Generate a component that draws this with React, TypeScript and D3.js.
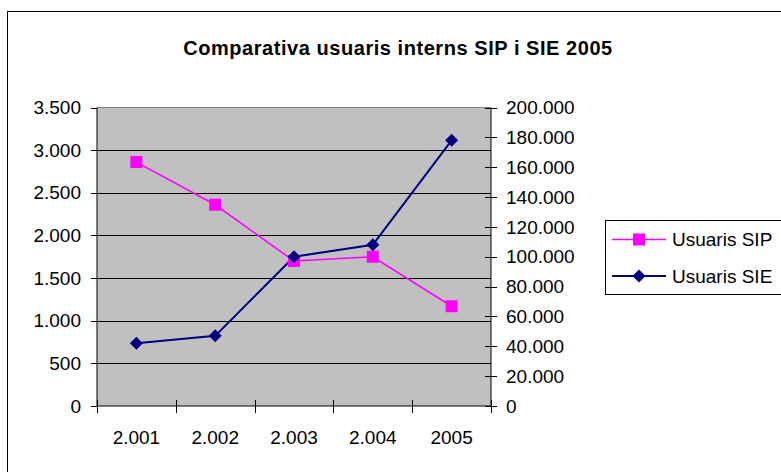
import React from "react";
import * as d3 from "d3";

const categories = ["2.001", "2.002", "2.003", "2.004", "2005"];
const sipValues = [2860, 2360, 1700, 1750, 1170];
const sieValues = [42000, 47000, 100000, 108000, 178000];
const leftTicks = [0, 500, 1000, 1500, 2000, 2500, 3000, 3500];
const rightTicks = [0, 20000, 40000, 60000, 80000, 100000, 120000, 140000, 160000, 180000, 200000];
const seriesNames = ["Usuaris SIP", "Usuaris SIE"];
const title = "Comparativa usuaris interns SIP i SIE 2005";

const W = 781;
const H = 472;
const FONT = "'Liberation Sans', Arial, sans-serif";
const fmt = (v: number) => {
  const s = String(v);
  return s.replace(/\B(?=(\d{3})+(?!\d))/g, ".");
};

export default function App() {
  const left = 97, right = 491, top = 107.5, bottom = 406;
  const x = d3.scaleBand<string>().domain(categories).range([left, right]).padding(0);
  const yL = d3.scaleLinear().domain([0, 3500]).range([bottom, top]);
  const yR = d3.scaleLinear().domain([0, 200000]).range([bottom, top]);
  const cx = (c: string) => (x(c) as number) + x.bandwidth() / 2;

  const lineL = d3.line<number>().x((_, i) => cx(categories[i])).y((d) => yL(d));
  const lineR = d3.line<number>().x((_, i) => cx(categories[i])).y((d) => yR(d));

  const boundaries = d3.range(categories.length + 1).map((i) => left + i * x.bandwidth());
  const sq = 12;
  const dm = 6.5;
  const diamond = (px: number, py: number) =>
    `M${px},${py - dm}L${px + dm},${py}L${px},${py + dm}L${px - dm},${py}Z`;

  return (
    <svg width={W} height={H} style={{ position: "absolute", left: 0, top: 0 }} fontFamily={FONT}>
      <rect x={0} y={0} width={W} height={H} fill="#fff" />
      <rect x={7.5} y={11.5} width={W + 20} height={H + 20} fill="none" stroke="#000" strokeWidth={1} />
      <text x={398} y={55} textAnchor="middle" fontSize={20} fontWeight="bold" letterSpacing={0.55} fill="#000">
        {title}
      </text>

      <rect x={left} y={top} width={right - left} height={bottom - top} fill="#C0C0C0" />
      {leftTicks.slice(1, -1).map((t) => (
        <line key={"g" + t} x1={left} x2={right} y1={Math.round(yL(t)) + 0.5} y2={Math.round(yL(t)) + 0.5} stroke="#000" strokeWidth={1} />
      ))}
      <line x1={left} x2={right} y1={top} y2={top} stroke="#808080" strokeWidth={1} />

      {/* left axis */}
      <line x1={left} x2={left} y1={top} y2={bottom} stroke="#000" strokeWidth={1} />
      {leftTicks.map((t) => (
        <g key={"l" + t}>
          <line x1={left - 6} x2={left} y1={Math.round(yL(t)) + 0.5} y2={Math.round(yL(t)) + 0.5} stroke="#000" />
          <text x={81} y={yL(t)} dy="0.35em" textAnchor="end" fontSize={19} fill="#000">{fmt(t)}</text>
        </g>
      ))}

      {/* right axis */}
      <line x1={right} x2={right} y1={top} y2={bottom} stroke="#000" strokeWidth={1} />
      {rightTicks.map((t) => (
        <g key={"r" + t}>
          <line x1={right - 6} x2={right + 6} y1={Math.round(yR(t)) + 0.5} y2={Math.round(yR(t)) + 0.5} stroke="#000" />
          <text x={506} y={yR(t)} dy="0.35em" textAnchor="start" fontSize={19} fill="#000">{fmt(t)}</text>
        </g>
      ))}

      {/* x axis */}
      <line x1={left} x2={right} y1={bottom} y2={bottom} stroke="#000" strokeWidth={1.2} />
      {boundaries.map((bx, i) => (
        <line key={"xb" + i} x1={Math.round(bx) + 0.5} x2={Math.round(bx) + 0.5} y1={bottom - 6} y2={bottom + 7} stroke="#000" />
      ))}
      {categories.map((c) => (
        <text key={"xl" + c} x={cx(c)} y={437} dy="0.35em" textAnchor="middle" fontSize={19} fill="#000">{c}</text>
      ))}

      {/* series */}
      <path d={lineL(sipValues) || ""} fill="none" stroke="#FF00FF" strokeWidth={1.6} />
      <path d={lineR(sieValues) || ""} fill="none" stroke="#000080" strokeWidth={2} />
      {sipValues.map((v, i) => (
        <rect key={"sp" + i} x={cx(categories[i]) - sq / 2} y={yL(v) - sq / 2} width={sq} height={sq} fill="#FF00FF" />
      ))}
      {sieValues.map((v, i) => (
        <path key={"se" + i} d={diamond(cx(categories[i]), yR(v))} fill="#000080" />
      ))}

      {/* legend */}
      <rect x={605.5} y={220.5} width={200} height={74} fill="#fff" stroke="#000" strokeWidth={1} />
      <line x1={612} x2={666} y1={239.5} y2={239.5} stroke="#FF00FF" strokeWidth={1.6} />
      <rect x={639 - sq / 2} y={239.5 - sq / 2} width={sq} height={sq} fill="#FF00FF" />
      <text x={672} y={239.5} dy="0.35em" fontSize={19} fill="#000">{seriesNames[0]}</text>
      <line x1={612} x2={666} y1={276} y2={276} stroke="#000080" strokeWidth={2} />
      <path d={diamond(639, 276)} fill="#000080" />
      <text x={672} y={276} dy="0.35em" fontSize={19} fill="#000">{seriesNames[1]}</text>
    </svg>
  );
}
